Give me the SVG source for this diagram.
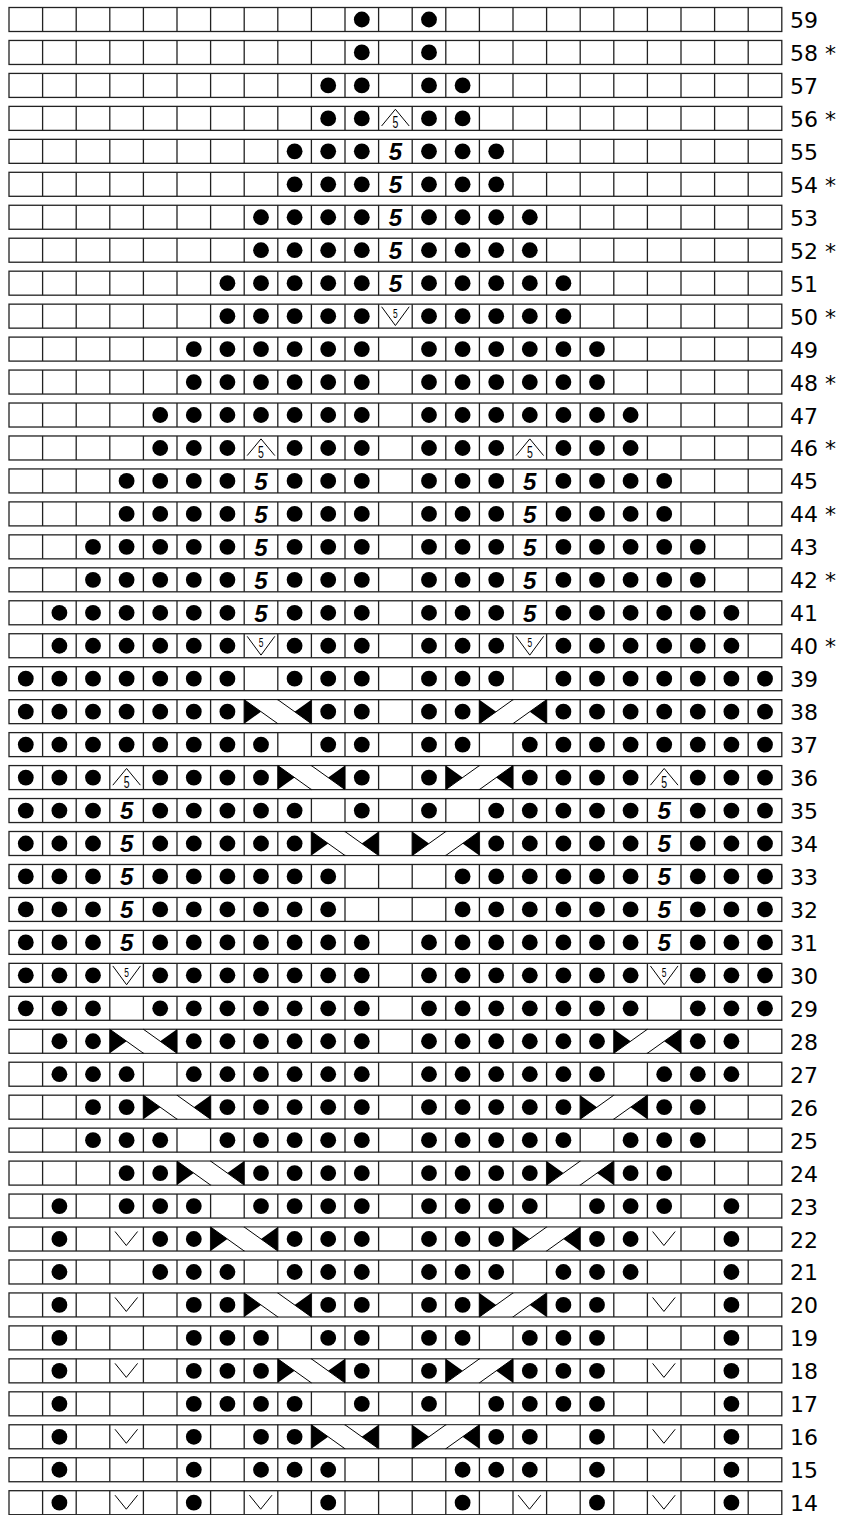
<svg xmlns="http://www.w3.org/2000/svg" width="843" height="1515" viewBox="0 0 843 1515">
<style>
.f{fill:none;stroke:#222;stroke-width:1.3}
.n{font-family:"DejaVu Sans",sans-serif;font-size:22px;fill:#000}
.b{font-family:"Liberation Sans",Arial,sans-serif;font-weight:bold;font-style:italic;font-size:24px;text-anchor:middle;fill:#000}
.t{font-family:"Liberation Sans",Arial,sans-serif;font-size:17px;text-anchor:middle;fill:#000}
.t2{font-family:"Liberation Sans",Arial,sans-serif;font-size:12px;text-anchor:middle;fill:#000}
.s{fill:none;stroke:#000;stroke-width:1}
</style>
<defs>
<g id="r" class="f"><rect x="9" y="0" width="772.8" height="24"/><path d="M42.6 0V24M76.2 0V24M109.8 0V24M143.4 0V24M177 0V24M210.6 0V24M244.2 0V24M277.8 0V24M311.4 0V24M345 0V24M378.6 0V24M412.2 0V24M445.8 0V24M479.4 0V24M513 0V24M546.6 0V24M580.2 0V24M613.8 0V24M647.4 0V24M681 0V24M714.6 0V24M748.2 0V24"/></g>
<circle id="d" cx="16.8" cy="12" r="7.9" fill="#000"/>
<text id="b5" class="b" x="16.8" y="20.8">5</text>
<g id="dec"><polyline class="s" points="3,19.6 16.8,2.9 30.6,19.6"/><text class="t" transform="translate(16.8,22) scale(0.62,1)">5</text></g>
<g id="inc"><polyline class="s" points="3,2.6 16.8,21.4 30.6,2.6"/><text class="t2" transform="translate(16.8,13.5) scale(0.7,1)">5</text></g>
<polyline id="sl" class="s" points="5.2,4.5 16.5,18.5 27.8,4.5"/>
<g id="cr"><rect x="0.8" y="0.7" width="65.6" height="22.6" fill="#fff"/><path class="s" d="M0 0L33.6 24M33.6 0L67.2 24"/><path d="M0 0V24L16.8 12ZM67.2 0V24L50.4 12Z" fill="#000"/></g>
<g id="cl"><rect x="0.8" y="0.7" width="65.6" height="22.6" fill="#fff"/><path class="s" d="M0 24L33.6 0M33.6 24L67.2 0"/><path d="M0 0V24L16.8 12ZM67.2 0V24L50.4 12Z" fill="#000"/></g>
</defs>
<rect width="843" height="1515" fill="#fff"/>

<g id="row59" transform="translate(0,7.5)"><use href="#r"/><use href="#d" x="345"/><use href="#d" x="412.2"/><text class="n" x="790" y="20.5">59</text></g>
<g id="row58" transform="translate(0,40.46)"><use href="#r"/><use href="#d" x="345"/><use href="#d" x="412.2"/><text class="n" x="790" y="20.5">58 *</text></g>
<g id="row57" transform="translate(0,73.42)"><use href="#r"/><use href="#d" x="311.4"/><use href="#d" x="345"/><use href="#d" x="412.2"/><use href="#d" x="445.8"/><text class="n" x="790" y="20.5">57</text></g>
<g id="row56" transform="translate(0,106.38)"><use href="#r"/><use href="#d" x="311.4"/><use href="#d" x="345"/><use href="#dec" x="378.6"/><use href="#d" x="412.2"/><use href="#d" x="445.8"/><text class="n" x="790" y="20.5">56 *</text></g>
<g id="row55" transform="translate(0,139.34)"><use href="#r"/><use href="#d" x="277.8"/><use href="#d" x="311.4"/><use href="#d" x="345"/><use href="#b5" x="378.6"/><use href="#d" x="412.2"/><use href="#d" x="445.8"/><use href="#d" x="479.4"/><text class="n" x="790" y="20.5">55</text></g>
<g id="row54" transform="translate(0,172.3)"><use href="#r"/><use href="#d" x="277.8"/><use href="#d" x="311.4"/><use href="#d" x="345"/><use href="#b5" x="378.6"/><use href="#d" x="412.2"/><use href="#d" x="445.8"/><use href="#d" x="479.4"/><text class="n" x="790" y="20.5">54 *</text></g>
<g id="row53" transform="translate(0,205.26)"><use href="#r"/><use href="#d" x="244.2"/><use href="#d" x="277.8"/><use href="#d" x="311.4"/><use href="#d" x="345"/><use href="#b5" x="378.6"/><use href="#d" x="412.2"/><use href="#d" x="445.8"/><use href="#d" x="479.4"/><use href="#d" x="513"/><text class="n" x="790" y="20.5">53</text></g>
<g id="row52" transform="translate(0,238.22)"><use href="#r"/><use href="#d" x="244.2"/><use href="#d" x="277.8"/><use href="#d" x="311.4"/><use href="#d" x="345"/><use href="#b5" x="378.6"/><use href="#d" x="412.2"/><use href="#d" x="445.8"/><use href="#d" x="479.4"/><use href="#d" x="513"/><text class="n" x="790" y="20.5">52 *</text></g>
<g id="row51" transform="translate(0,271.18)"><use href="#r"/><use href="#d" x="210.6"/><use href="#d" x="244.2"/><use href="#d" x="277.8"/><use href="#d" x="311.4"/><use href="#d" x="345"/><use href="#b5" x="378.6"/><use href="#d" x="412.2"/><use href="#d" x="445.8"/><use href="#d" x="479.4"/><use href="#d" x="513"/><use href="#d" x="546.6"/><text class="n" x="790" y="20.5">51</text></g>
<g id="row50" transform="translate(0,304.14)"><use href="#r"/><use href="#d" x="210.6"/><use href="#d" x="244.2"/><use href="#d" x="277.8"/><use href="#d" x="311.4"/><use href="#d" x="345"/><use href="#inc" x="378.6"/><use href="#d" x="412.2"/><use href="#d" x="445.8"/><use href="#d" x="479.4"/><use href="#d" x="513"/><use href="#d" x="546.6"/><text class="n" x="790" y="20.5">50 *</text></g>
<g id="row49" transform="translate(0,337.1)"><use href="#r"/><use href="#d" x="177"/><use href="#d" x="210.6"/><use href="#d" x="244.2"/><use href="#d" x="277.8"/><use href="#d" x="311.4"/><use href="#d" x="345"/><use href="#d" x="412.2"/><use href="#d" x="445.8"/><use href="#d" x="479.4"/><use href="#d" x="513"/><use href="#d" x="546.6"/><use href="#d" x="580.2"/><text class="n" x="790" y="20.5">49</text></g>
<g id="row48" transform="translate(0,370.06)"><use href="#r"/><use href="#d" x="177"/><use href="#d" x="210.6"/><use href="#d" x="244.2"/><use href="#d" x="277.8"/><use href="#d" x="311.4"/><use href="#d" x="345"/><use href="#d" x="412.2"/><use href="#d" x="445.8"/><use href="#d" x="479.4"/><use href="#d" x="513"/><use href="#d" x="546.6"/><use href="#d" x="580.2"/><text class="n" x="790" y="20.5">48 *</text></g>
<g id="row47" transform="translate(0,403.02)"><use href="#r"/><use href="#d" x="143.4"/><use href="#d" x="177"/><use href="#d" x="210.6"/><use href="#d" x="244.2"/><use href="#d" x="277.8"/><use href="#d" x="311.4"/><use href="#d" x="345"/><use href="#d" x="412.2"/><use href="#d" x="445.8"/><use href="#d" x="479.4"/><use href="#d" x="513"/><use href="#d" x="546.6"/><use href="#d" x="580.2"/><use href="#d" x="613.8"/><text class="n" x="790" y="20.5">47</text></g>
<g id="row46" transform="translate(0,435.98)"><use href="#r"/><use href="#d" x="143.4"/><use href="#d" x="177"/><use href="#d" x="210.6"/><use href="#dec" x="244.2"/><use href="#d" x="277.8"/><use href="#d" x="311.4"/><use href="#d" x="345"/><use href="#d" x="412.2"/><use href="#d" x="445.8"/><use href="#d" x="479.4"/><use href="#dec" x="513"/><use href="#d" x="546.6"/><use href="#d" x="580.2"/><use href="#d" x="613.8"/><text class="n" x="790" y="20.5">46 *</text></g>
<g id="row45" transform="translate(0,468.94)"><use href="#r"/><use href="#d" x="109.8"/><use href="#d" x="143.4"/><use href="#d" x="177"/><use href="#d" x="210.6"/><use href="#b5" x="244.2"/><use href="#d" x="277.8"/><use href="#d" x="311.4"/><use href="#d" x="345"/><use href="#d" x="412.2"/><use href="#d" x="445.8"/><use href="#d" x="479.4"/><use href="#b5" x="513"/><use href="#d" x="546.6"/><use href="#d" x="580.2"/><use href="#d" x="613.8"/><use href="#d" x="647.4"/><text class="n" x="790" y="20.5">45</text></g>
<g id="row44" transform="translate(0,501.9)"><use href="#r"/><use href="#d" x="109.8"/><use href="#d" x="143.4"/><use href="#d" x="177"/><use href="#d" x="210.6"/><use href="#b5" x="244.2"/><use href="#d" x="277.8"/><use href="#d" x="311.4"/><use href="#d" x="345"/><use href="#d" x="412.2"/><use href="#d" x="445.8"/><use href="#d" x="479.4"/><use href="#b5" x="513"/><use href="#d" x="546.6"/><use href="#d" x="580.2"/><use href="#d" x="613.8"/><use href="#d" x="647.4"/><text class="n" x="790" y="20.5">44 *</text></g>
<g id="row43" transform="translate(0,534.86)"><use href="#r"/><use href="#d" x="76.2"/><use href="#d" x="109.8"/><use href="#d" x="143.4"/><use href="#d" x="177"/><use href="#d" x="210.6"/><use href="#b5" x="244.2"/><use href="#d" x="277.8"/><use href="#d" x="311.4"/><use href="#d" x="345"/><use href="#d" x="412.2"/><use href="#d" x="445.8"/><use href="#d" x="479.4"/><use href="#b5" x="513"/><use href="#d" x="546.6"/><use href="#d" x="580.2"/><use href="#d" x="613.8"/><use href="#d" x="647.4"/><use href="#d" x="681"/><text class="n" x="790" y="20.5">43</text></g>
<g id="row42" transform="translate(0,567.82)"><use href="#r"/><use href="#d" x="76.2"/><use href="#d" x="109.8"/><use href="#d" x="143.4"/><use href="#d" x="177"/><use href="#d" x="210.6"/><use href="#b5" x="244.2"/><use href="#d" x="277.8"/><use href="#d" x="311.4"/><use href="#d" x="345"/><use href="#d" x="412.2"/><use href="#d" x="445.8"/><use href="#d" x="479.4"/><use href="#b5" x="513"/><use href="#d" x="546.6"/><use href="#d" x="580.2"/><use href="#d" x="613.8"/><use href="#d" x="647.4"/><use href="#d" x="681"/><text class="n" x="790" y="20.5">42 *</text></g>
<g id="row41" transform="translate(0,600.78)"><use href="#r"/><use href="#d" x="42.6"/><use href="#d" x="76.2"/><use href="#d" x="109.8"/><use href="#d" x="143.4"/><use href="#d" x="177"/><use href="#d" x="210.6"/><use href="#b5" x="244.2"/><use href="#d" x="277.8"/><use href="#d" x="311.4"/><use href="#d" x="345"/><use href="#d" x="412.2"/><use href="#d" x="445.8"/><use href="#d" x="479.4"/><use href="#b5" x="513"/><use href="#d" x="546.6"/><use href="#d" x="580.2"/><use href="#d" x="613.8"/><use href="#d" x="647.4"/><use href="#d" x="681"/><use href="#d" x="714.6"/><text class="n" x="790" y="20.5">41</text></g>
<g id="row40" transform="translate(0,633.74)"><use href="#r"/><use href="#d" x="42.6"/><use href="#d" x="76.2"/><use href="#d" x="109.8"/><use href="#d" x="143.4"/><use href="#d" x="177"/><use href="#d" x="210.6"/><use href="#inc" x="244.2"/><use href="#d" x="277.8"/><use href="#d" x="311.4"/><use href="#d" x="345"/><use href="#d" x="412.2"/><use href="#d" x="445.8"/><use href="#d" x="479.4"/><use href="#inc" x="513"/><use href="#d" x="546.6"/><use href="#d" x="580.2"/><use href="#d" x="613.8"/><use href="#d" x="647.4"/><use href="#d" x="681"/><use href="#d" x="714.6"/><text class="n" x="790" y="20.5">40 *</text></g>
<g id="row39" transform="translate(0,666.7)"><use href="#r"/><use href="#d" x="9"/><use href="#d" x="42.6"/><use href="#d" x="76.2"/><use href="#d" x="109.8"/><use href="#d" x="143.4"/><use href="#d" x="177"/><use href="#d" x="210.6"/><use href="#d" x="277.8"/><use href="#d" x="311.4"/><use href="#d" x="345"/><use href="#d" x="412.2"/><use href="#d" x="445.8"/><use href="#d" x="479.4"/><use href="#d" x="546.6"/><use href="#d" x="580.2"/><use href="#d" x="613.8"/><use href="#d" x="647.4"/><use href="#d" x="681"/><use href="#d" x="714.6"/><use href="#d" x="748.2"/><text class="n" x="790" y="20.5">39</text></g>
<g id="row38" transform="translate(0,699.66)"><use href="#r"/><use href="#d" x="9"/><use href="#d" x="42.6"/><use href="#d" x="76.2"/><use href="#d" x="109.8"/><use href="#d" x="143.4"/><use href="#d" x="177"/><use href="#d" x="210.6"/><use href="#cr" x="244.2"/><use href="#d" x="311.4"/><use href="#d" x="345"/><use href="#d" x="412.2"/><use href="#d" x="445.8"/><use href="#cl" x="479.4"/><use href="#d" x="546.6"/><use href="#d" x="580.2"/><use href="#d" x="613.8"/><use href="#d" x="647.4"/><use href="#d" x="681"/><use href="#d" x="714.6"/><use href="#d" x="748.2"/><text class="n" x="790" y="20.5">38</text></g>
<g id="row37" transform="translate(0,732.62)"><use href="#r"/><use href="#d" x="9"/><use href="#d" x="42.6"/><use href="#d" x="76.2"/><use href="#d" x="109.8"/><use href="#d" x="143.4"/><use href="#d" x="177"/><use href="#d" x="210.6"/><use href="#d" x="244.2"/><use href="#d" x="311.4"/><use href="#d" x="345"/><use href="#d" x="412.2"/><use href="#d" x="445.8"/><use href="#d" x="513"/><use href="#d" x="546.6"/><use href="#d" x="580.2"/><use href="#d" x="613.8"/><use href="#d" x="647.4"/><use href="#d" x="681"/><use href="#d" x="714.6"/><use href="#d" x="748.2"/><text class="n" x="790" y="20.5">37</text></g>
<g id="row36" transform="translate(0,765.58)"><use href="#r"/><use href="#d" x="9"/><use href="#d" x="42.6"/><use href="#d" x="76.2"/><use href="#dec" x="109.8"/><use href="#d" x="143.4"/><use href="#d" x="177"/><use href="#d" x="210.6"/><use href="#d" x="244.2"/><use href="#cr" x="277.8"/><use href="#d" x="345"/><use href="#d" x="412.2"/><use href="#cl" x="445.8"/><use href="#d" x="513"/><use href="#d" x="546.6"/><use href="#d" x="580.2"/><use href="#d" x="613.8"/><use href="#dec" x="647.4"/><use href="#d" x="681"/><use href="#d" x="714.6"/><use href="#d" x="748.2"/><text class="n" x="790" y="20.5">36</text></g>
<g id="row35" transform="translate(0,798.54)"><use href="#r"/><use href="#d" x="9"/><use href="#d" x="42.6"/><use href="#d" x="76.2"/><use href="#b5" x="109.8"/><use href="#d" x="143.4"/><use href="#d" x="177"/><use href="#d" x="210.6"/><use href="#d" x="244.2"/><use href="#d" x="277.8"/><use href="#d" x="345"/><use href="#d" x="412.2"/><use href="#d" x="479.4"/><use href="#d" x="513"/><use href="#d" x="546.6"/><use href="#d" x="580.2"/><use href="#d" x="613.8"/><use href="#b5" x="647.4"/><use href="#d" x="681"/><use href="#d" x="714.6"/><use href="#d" x="748.2"/><text class="n" x="790" y="20.5">35</text></g>
<g id="row34" transform="translate(0,831.5)"><use href="#r"/><use href="#d" x="9"/><use href="#d" x="42.6"/><use href="#d" x="76.2"/><use href="#b5" x="109.8"/><use href="#d" x="143.4"/><use href="#d" x="177"/><use href="#d" x="210.6"/><use href="#d" x="244.2"/><use href="#d" x="277.8"/><use href="#cr" x="311.4"/><use href="#cl" x="412.2"/><use href="#d" x="479.4"/><use href="#d" x="513"/><use href="#d" x="546.6"/><use href="#d" x="580.2"/><use href="#d" x="613.8"/><use href="#b5" x="647.4"/><use href="#d" x="681"/><use href="#d" x="714.6"/><use href="#d" x="748.2"/><text class="n" x="790" y="20.5">34</text></g>
<g id="row33" transform="translate(0,864.46)"><use href="#r"/><use href="#d" x="9"/><use href="#d" x="42.6"/><use href="#d" x="76.2"/><use href="#b5" x="109.8"/><use href="#d" x="143.4"/><use href="#d" x="177"/><use href="#d" x="210.6"/><use href="#d" x="244.2"/><use href="#d" x="277.8"/><use href="#d" x="311.4"/><use href="#d" x="445.8"/><use href="#d" x="479.4"/><use href="#d" x="513"/><use href="#d" x="546.6"/><use href="#d" x="580.2"/><use href="#d" x="613.8"/><use href="#b5" x="647.4"/><use href="#d" x="681"/><use href="#d" x="714.6"/><use href="#d" x="748.2"/><text class="n" x="790" y="20.5">33</text></g>
<g id="row32" transform="translate(0,897.42)"><use href="#r"/><use href="#d" x="9"/><use href="#d" x="42.6"/><use href="#d" x="76.2"/><use href="#b5" x="109.8"/><use href="#d" x="143.4"/><use href="#d" x="177"/><use href="#d" x="210.6"/><use href="#d" x="244.2"/><use href="#d" x="277.8"/><use href="#d" x="311.4"/><use href="#d" x="445.8"/><use href="#d" x="479.4"/><use href="#d" x="513"/><use href="#d" x="546.6"/><use href="#d" x="580.2"/><use href="#d" x="613.8"/><use href="#b5" x="647.4"/><use href="#d" x="681"/><use href="#d" x="714.6"/><use href="#d" x="748.2"/><text class="n" x="790" y="20.5">32</text></g>
<g id="row31" transform="translate(0,930.38)"><use href="#r"/><use href="#d" x="9"/><use href="#d" x="42.6"/><use href="#d" x="76.2"/><use href="#b5" x="109.8"/><use href="#d" x="143.4"/><use href="#d" x="177"/><use href="#d" x="210.6"/><use href="#d" x="244.2"/><use href="#d" x="277.8"/><use href="#d" x="311.4"/><use href="#d" x="345"/><use href="#d" x="412.2"/><use href="#d" x="445.8"/><use href="#d" x="479.4"/><use href="#d" x="513"/><use href="#d" x="546.6"/><use href="#d" x="580.2"/><use href="#d" x="613.8"/><use href="#b5" x="647.4"/><use href="#d" x="681"/><use href="#d" x="714.6"/><use href="#d" x="748.2"/><text class="n" x="790" y="20.5">31</text></g>
<g id="row30" transform="translate(0,963.34)"><use href="#r"/><use href="#d" x="9"/><use href="#d" x="42.6"/><use href="#d" x="76.2"/><use href="#inc" x="109.8"/><use href="#d" x="143.4"/><use href="#d" x="177"/><use href="#d" x="210.6"/><use href="#d" x="244.2"/><use href="#d" x="277.8"/><use href="#d" x="311.4"/><use href="#d" x="345"/><use href="#d" x="412.2"/><use href="#d" x="445.8"/><use href="#d" x="479.4"/><use href="#d" x="513"/><use href="#d" x="546.6"/><use href="#d" x="580.2"/><use href="#d" x="613.8"/><use href="#inc" x="647.4"/><use href="#d" x="681"/><use href="#d" x="714.6"/><use href="#d" x="748.2"/><text class="n" x="790" y="20.5">30</text></g>
<g id="row29" transform="translate(0,996.3)"><use href="#r"/><use href="#d" x="9"/><use href="#d" x="42.6"/><use href="#d" x="76.2"/><use href="#d" x="143.4"/><use href="#d" x="177"/><use href="#d" x="210.6"/><use href="#d" x="244.2"/><use href="#d" x="277.8"/><use href="#d" x="311.4"/><use href="#d" x="345"/><use href="#d" x="412.2"/><use href="#d" x="445.8"/><use href="#d" x="479.4"/><use href="#d" x="513"/><use href="#d" x="546.6"/><use href="#d" x="580.2"/><use href="#d" x="613.8"/><use href="#d" x="681"/><use href="#d" x="714.6"/><use href="#d" x="748.2"/><text class="n" x="790" y="20.5">29</text></g>
<g id="row28" transform="translate(0,1029.26)"><use href="#r"/><use href="#d" x="42.6"/><use href="#d" x="76.2"/><use href="#cr" x="109.8"/><use href="#d" x="177"/><use href="#d" x="210.6"/><use href="#d" x="244.2"/><use href="#d" x="277.8"/><use href="#d" x="311.4"/><use href="#d" x="345"/><use href="#d" x="412.2"/><use href="#d" x="445.8"/><use href="#d" x="479.4"/><use href="#d" x="513"/><use href="#d" x="546.6"/><use href="#d" x="580.2"/><use href="#cl" x="613.8"/><use href="#d" x="681"/><use href="#d" x="714.6"/><text class="n" x="790" y="20.5">28</text></g>
<g id="row27" transform="translate(0,1062.22)"><use href="#r"/><use href="#d" x="42.6"/><use href="#d" x="76.2"/><use href="#d" x="109.8"/><use href="#d" x="177"/><use href="#d" x="210.6"/><use href="#d" x="244.2"/><use href="#d" x="277.8"/><use href="#d" x="311.4"/><use href="#d" x="345"/><use href="#d" x="412.2"/><use href="#d" x="445.8"/><use href="#d" x="479.4"/><use href="#d" x="513"/><use href="#d" x="546.6"/><use href="#d" x="580.2"/><use href="#d" x="647.4"/><use href="#d" x="681"/><use href="#d" x="714.6"/><text class="n" x="790" y="20.5">27</text></g>
<g id="row26" transform="translate(0,1095.18)"><use href="#r"/><use href="#d" x="76.2"/><use href="#d" x="109.8"/><use href="#cr" x="143.4"/><use href="#d" x="210.6"/><use href="#d" x="244.2"/><use href="#d" x="277.8"/><use href="#d" x="311.4"/><use href="#d" x="345"/><use href="#d" x="412.2"/><use href="#d" x="445.8"/><use href="#d" x="479.4"/><use href="#d" x="513"/><use href="#d" x="546.6"/><use href="#cl" x="580.2"/><use href="#d" x="647.4"/><use href="#d" x="681"/><text class="n" x="790" y="20.5">26</text></g>
<g id="row25" transform="translate(0,1128.14)"><use href="#r"/><use href="#d" x="76.2"/><use href="#d" x="109.8"/><use href="#d" x="143.4"/><use href="#d" x="210.6"/><use href="#d" x="244.2"/><use href="#d" x="277.8"/><use href="#d" x="311.4"/><use href="#d" x="345"/><use href="#d" x="412.2"/><use href="#d" x="445.8"/><use href="#d" x="479.4"/><use href="#d" x="513"/><use href="#d" x="546.6"/><use href="#d" x="613.8"/><use href="#d" x="647.4"/><use href="#d" x="681"/><text class="n" x="790" y="20.5">25</text></g>
<g id="row24" transform="translate(0,1161.1)"><use href="#r"/><use href="#d" x="109.8"/><use href="#d" x="143.4"/><use href="#cr" x="177"/><use href="#d" x="244.2"/><use href="#d" x="277.8"/><use href="#d" x="311.4"/><use href="#d" x="345"/><use href="#d" x="412.2"/><use href="#d" x="445.8"/><use href="#d" x="479.4"/><use href="#d" x="513"/><use href="#cl" x="546.6"/><use href="#d" x="613.8"/><use href="#d" x="647.4"/><text class="n" x="790" y="20.5">24</text></g>
<g id="row23" transform="translate(0,1194.06)"><use href="#r"/><use href="#d" x="42.6"/><use href="#d" x="109.8"/><use href="#d" x="143.4"/><use href="#d" x="177"/><use href="#d" x="244.2"/><use href="#d" x="277.8"/><use href="#d" x="311.4"/><use href="#d" x="345"/><use href="#d" x="412.2"/><use href="#d" x="445.8"/><use href="#d" x="479.4"/><use href="#d" x="513"/><use href="#d" x="580.2"/><use href="#d" x="613.8"/><use href="#d" x="647.4"/><use href="#d" x="714.6"/><text class="n" x="790" y="20.5">23</text></g>
<g id="row22" transform="translate(0,1227.02)"><use href="#r"/><use href="#d" x="42.6"/><use href="#sl" x="109.8"/><use href="#d" x="143.4"/><use href="#d" x="177"/><use href="#cr" x="210.6"/><use href="#d" x="277.8"/><use href="#d" x="311.4"/><use href="#d" x="345"/><use href="#d" x="412.2"/><use href="#d" x="445.8"/><use href="#d" x="479.4"/><use href="#cl" x="513"/><use href="#d" x="580.2"/><use href="#d" x="613.8"/><use href="#sl" x="647.4"/><use href="#d" x="714.6"/><text class="n" x="790" y="20.5">22</text></g>
<g id="row21" transform="translate(0,1259.98)"><use href="#r"/><use href="#d" x="42.6"/><use href="#d" x="143.4"/><use href="#d" x="177"/><use href="#d" x="210.6"/><use href="#d" x="277.8"/><use href="#d" x="311.4"/><use href="#d" x="345"/><use href="#d" x="412.2"/><use href="#d" x="445.8"/><use href="#d" x="479.4"/><use href="#d" x="546.6"/><use href="#d" x="580.2"/><use href="#d" x="613.8"/><use href="#d" x="714.6"/><text class="n" x="790" y="20.5">21</text></g>
<g id="row20" transform="translate(0,1292.94)"><use href="#r"/><use href="#d" x="42.6"/><use href="#sl" x="109.8"/><use href="#d" x="177"/><use href="#d" x="210.6"/><use href="#cr" x="244.2"/><use href="#d" x="311.4"/><use href="#d" x="345"/><use href="#d" x="412.2"/><use href="#d" x="445.8"/><use href="#cl" x="479.4"/><use href="#d" x="546.6"/><use href="#d" x="580.2"/><use href="#sl" x="647.4"/><use href="#d" x="714.6"/><text class="n" x="790" y="20.5">20</text></g>
<g id="row19" transform="translate(0,1325.9)"><use href="#r"/><use href="#d" x="42.6"/><use href="#d" x="177"/><use href="#d" x="210.6"/><use href="#d" x="244.2"/><use href="#d" x="311.4"/><use href="#d" x="345"/><use href="#d" x="412.2"/><use href="#d" x="445.8"/><use href="#d" x="513"/><use href="#d" x="546.6"/><use href="#d" x="580.2"/><use href="#d" x="714.6"/><text class="n" x="790" y="20.5">19</text></g>
<g id="row18" transform="translate(0,1358.86)"><use href="#r"/><use href="#d" x="42.6"/><use href="#sl" x="109.8"/><use href="#d" x="177"/><use href="#d" x="210.6"/><use href="#d" x="244.2"/><use href="#cr" x="277.8"/><use href="#d" x="345"/><use href="#d" x="412.2"/><use href="#cl" x="445.8"/><use href="#d" x="513"/><use href="#d" x="546.6"/><use href="#d" x="580.2"/><use href="#sl" x="647.4"/><use href="#d" x="714.6"/><text class="n" x="790" y="20.5">18</text></g>
<g id="row17" transform="translate(0,1391.82)"><use href="#r"/><use href="#d" x="42.6"/><use href="#d" x="177"/><use href="#d" x="210.6"/><use href="#d" x="244.2"/><use href="#d" x="277.8"/><use href="#d" x="345"/><use href="#d" x="412.2"/><use href="#d" x="479.4"/><use href="#d" x="513"/><use href="#d" x="546.6"/><use href="#d" x="580.2"/><use href="#d" x="714.6"/><text class="n" x="790" y="20.5">17</text></g>
<g id="row16" transform="translate(0,1424.78)"><use href="#r"/><use href="#d" x="42.6"/><use href="#sl" x="109.8"/><use href="#d" x="177"/><use href="#d" x="244.2"/><use href="#d" x="277.8"/><use href="#cr" x="311.4"/><use href="#cl" x="412.2"/><use href="#d" x="479.4"/><use href="#d" x="513"/><use href="#d" x="580.2"/><use href="#sl" x="647.4"/><use href="#d" x="714.6"/><text class="n" x="790" y="20.5">16</text></g>
<g id="row15" transform="translate(0,1457.74)"><use href="#r"/><use href="#d" x="42.6"/><use href="#d" x="177"/><use href="#d" x="244.2"/><use href="#d" x="277.8"/><use href="#d" x="311.4"/><use href="#d" x="445.8"/><use href="#d" x="479.4"/><use href="#d" x="513"/><use href="#d" x="580.2"/><use href="#d" x="714.6"/><text class="n" x="790" y="20.5">15</text></g>
<g id="row14" transform="translate(0,1490.7)"><use href="#r"/><use href="#d" x="42.6"/><use href="#sl" x="109.8"/><use href="#d" x="177"/><use href="#sl" x="244.2"/><use href="#d" x="311.4"/><use href="#d" x="445.8"/><use href="#sl" x="513"/><use href="#d" x="580.2"/><use href="#sl" x="647.4"/><use href="#d" x="714.6"/><text class="n" x="790" y="20.5">14</text></g>
</svg>
